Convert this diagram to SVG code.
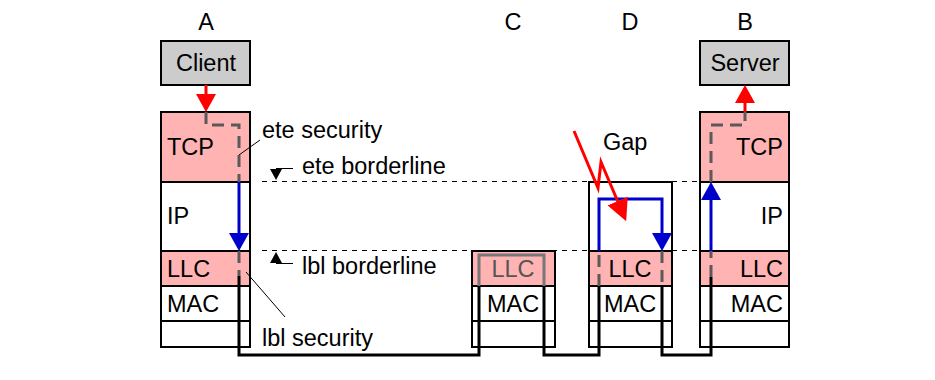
<svg xmlns="http://www.w3.org/2000/svg" width="935" height="380" viewBox="0 0 935 380">
<style>
text{font-family:"Liberation Sans",Arial,sans-serif;font-size:23.5px;fill:#000}
.box{stroke:#000;stroke-width:2}
.pink{fill:#ffb3b3}
.white{fill:#fff}
.grey{fill:#cccccc}
.wire{fill:none;stroke:#000;stroke-width:3}
.dash{fill:none;stroke:#5a5a5a;stroke-width:3;stroke-dasharray:12 7}
.blue{fill:none;stroke:#0000cc;stroke-width:3}
.red{fill:none;stroke:#ff0000;stroke-width:3}
.border{fill:none;stroke:#000;stroke-width:1;stroke-dasharray:5 5}
.lead{fill:none;stroke:#000;stroke-width:1}
.mid{text-anchor:middle}
.end{text-anchor:end}
</style>
<defs>
<marker id="ar" markerUnits="userSpaceOnUse" markerWidth="18" markerHeight="20" refX="1" refY="10" orient="auto"><path d="M0,0 L18,10 L0,20 z" fill="#ff0000"/></marker>
<marker id="ab" markerUnits="userSpaceOnUse" markerWidth="18" markerHeight="20" refX="1" refY="10" orient="auto"><path d="M0,0 L18,10 L0,20 z" fill="#0000cc"/></marker>
<marker id="ag" markerUnits="userSpaceOnUse" markerWidth="22" markerHeight="22" refX="1" refY="11" orient="auto"><path d="M0,0 L22,11 L0,22 z" fill="#ff0000"/></marker>
</defs>
<rect width="935" height="380" fill="#fff"/>

<g id="client">
<text x="206" y="30" class="mid">A</text>
<rect class="box grey" x="161" y="41" width="89" height="44"/>
<text x="206" y="71" class="mid">Client</text>
</g>
<g id="stackA">
<rect class="box pink" x="161" y="112" width="89" height="70"/>
<rect class="box white" x="161" y="182" width="89" height="69"/>
<rect class="box pink" x="161" y="251" width="89" height="35"/>
<rect class="box white" x="161" y="286" width="89" height="35"/>
<rect class="box white" x="161" y="321" width="89" height="26"/>
<text x="167" y="155">TCP</text>
<text x="167" y="224">IP</text>
<text x="167" y="277">LLC</text>
<text x="167" y="312">MAC</text>
</g>
<g id="stackC">
<text x="513" y="30" class="mid">C</text>
<rect class="box pink" x="472" y="251" width="83" height="35"/>
<rect class="box white" x="472" y="286" width="83" height="35"/>
<rect class="box white" x="472" y="321" width="83" height="26"/>
<text x="513" y="277" class="mid" style="fill:#555">LLC</text>
<text x="513" y="312" class="mid">MAC</text>
</g>
<g id="stackD">
<text x="630" y="30" class="mid">D</text>
<rect class="box white" x="589" y="182" width="83" height="69"/>
<rect class="box pink" x="589" y="251" width="83" height="35"/>
<rect class="box white" x="589" y="286" width="83" height="35"/>
<rect class="box white" x="589" y="321" width="83" height="26"/>
<text x="630" y="277" class="mid">LLC</text>
<text x="630" y="312" class="mid">MAC</text>
</g>
<g id="server">
<text x="745" y="30" class="mid">B</text>
<rect class="box grey" x="700" y="41" width="89" height="44"/>
<text x="745" y="71" class="mid">Server</text>
</g>
<g id="stackB">
<rect class="box pink" x="700" y="112" width="89" height="70"/>
<rect class="box white" x="700" y="182" width="89" height="69"/>
<rect class="box pink" x="700" y="251" width="89" height="35"/>
<rect class="box white" x="700" y="286" width="89" height="35"/>
<rect class="box white" x="700" y="321" width="89" height="26"/>
<text x="783" y="155" class="end">TCP</text>
<text x="783" y="224" class="end">IP</text>
<text x="783" y="277" class="end">LLC</text>
<text x="783" y="312" class="end">MAC</text>
</g>

<g id="borderlines">
<line class="border" x1="262" y1="181.5" x2="700" y2="181.5"/>
<line class="border" x1="262" y1="250.5" x2="700" y2="250.5"/>
<polygon points="270,169 282,169 276,180" fill="#000"/>
<line class="lead" x1="276" y1="168.5" x2="293" y2="168.5"/>
<text x="302" y="174">ete borderline</text>
<polygon points="270,263 282,263 276,252" fill="#000"/>
<line class="lead" x1="276" y1="263.5" x2="293" y2="263.5"/>
<text x="302" y="274">lbl borderline</text>
</g>
<g id="security-labels">
<line class="lead" x1="260" y1="140" x2="239" y2="155"/>
<text x="262" y="138">ete security</text>
<line class="lead" x1="285" y1="317" x2="246" y2="272"/>
<text x="262" y="346">lbl security</text>
<text x="603" y="150">Gap</text>
</g>

<g id="connectors">
<path class="red" d="M206,85 V95" marker-end="url(#ar)"/>
<path class="dash" d="M206,112 V125 H239 V182"/>
<path class="blue" d="M239,182 V234" marker-end="url(#ab)"/>
<path class="dash" d="M239,251 V276"/>
<path class="wire" d="M239,276 V355 H479 V286"/>
<path d="M479,286 V255 H544 V286" fill="none" stroke="#777" stroke-width="3"/>
<path class="wire" d="M544,286 V355 H599 V286"/>
<path class="dash" d="M599,286 V251"/>
<path class="blue" d="M599,251 V199 H662 V234" marker-end="url(#ab)"/>
<path class="dash" d="M662,251 V286"/>
<path class="wire" d="M662,286 V355 H711 V277"/>
<path class="dash" d="M711,277 V251"/>
<path class="blue" d="M711,251 V199" marker-end="url(#ab)"/>
<path class="dash" d="M711,182 V125 H745 V112"/>
<path class="red" d="M745,112 V102" marker-end="url(#ar)"/>
<path class="red" d="M574,131 L598,188 L601,162 L618,202" marker-end="url(#ag)"/>
</g>
</svg>
